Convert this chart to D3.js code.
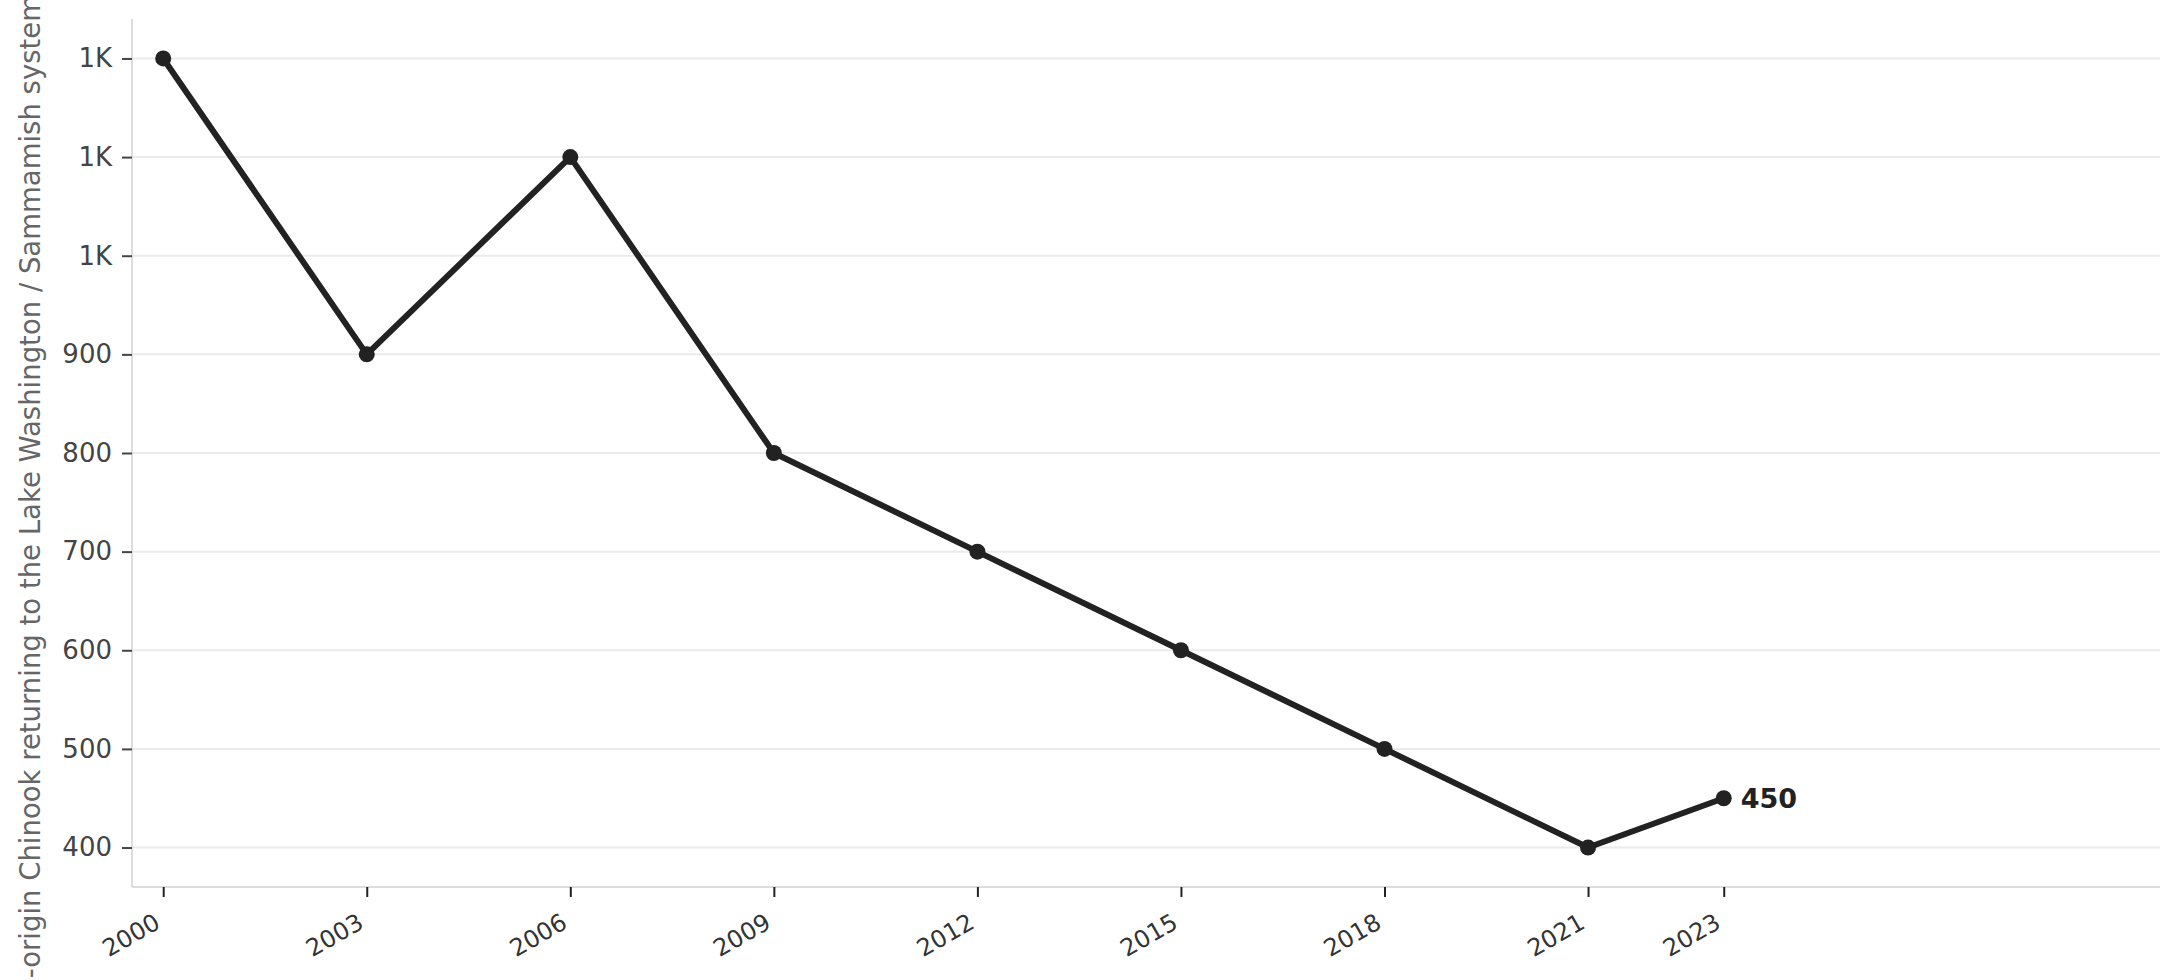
<!DOCTYPE html>
<html>
<head>
<meta charset="utf-8">
<script src="https://cdn.jsdelivr.net/npm/d3@7"></script>
<style>
  body { margin: 0; background: #fff; }
  text { font-family: "DejaVu Sans", sans-serif; }
</style>
</head>
<body>
<div id="chart"></div>
<script>
// data
var years = [2000, 2003, 2006, 2009, 2012, 2015, 2018, 2021, 2023];
var returns = [1200, 900, 1100, 800, 700, 600, 500, 400, 450];
var xTickYears = [2000, 2003, 2006, 2009, 2012, 2015, 2018, 2021, 2023];
var yTickValues = [400, 500, 600, 700, 800, 900, 1000, 1100, 1200];
var yTitle = "Number of natural-origin Chinook returning to the Lake Washington / Sammamish system";

var W = 2179, H = 980;
var plotLeft = 132, plotRight = 2160, plotTop = 19, plotBottom = 887;

var x = d3.scaleLinear()
          .domain([1999.54, 2029.43])
          .range([plotLeft, plotRight]);

var y = d3.scaleLinear()
          .domain([360, 1240])
          .range([plotBottom, plotTop]);

var svg = d3.select("#chart")
            .append("svg")
              .attr("width", W)
              .attr("height", H);

// grid
svg.append("g")
   .selectAll("line")
   .data(yTickValues)
   .join("line")
     .attr("x1", plotLeft)
     .attr("x2", plotRight)
     .attr("y1", d => y(d))
     .attr("y2", d => y(d))
     .attr("stroke", "#ebebeb")
     .attr("stroke-width", 2);

// spines
svg.append("line")
   .attr("x1", plotLeft).attr("x2", plotLeft)
   .attr("y1", plotTop).attr("y2", plotBottom)
   .attr("stroke", "#dddddd").attr("stroke-width", 2);
svg.append("line")
   .attr("x1", plotLeft).attr("x2", plotRight)
   .attr("y1", plotBottom).attr("y2", plotBottom)
   .attr("stroke", "#dddddd").attr("stroke-width", 2);

// y axis
var fmt = d3.format(".1s");
var yAxis = svg.append("g")
   .attr("transform", "translate(" + plotLeft + ",0)")
   .call(d3.axisLeft(y)
           .tickValues(yTickValues)
           .tickSize(10)
           .tickPadding(10)
           .tickFormat(d => fmt(d).replace("k", "K")));
yAxis.select(".domain").remove();
yAxis.selectAll(".tick line").attr("stroke", "#444").attr("stroke-width", 2);
yAxis.selectAll(".tick text")
     .attr("fill", "#444")
     .style("font-size", "26px")
     .style("font-family", "DejaVu Sans");

// x axis
var xAxis = svg.append("g")
   .attr("transform", "translate(0," + plotBottom + ")")
   .call(d3.axisBottom(x)
           .tickValues(xTickYears)
           .tickSize(10)
           .tickFormat(d3.format("d")));
xAxis.select(".domain").remove();
xAxis.selectAll(".tick line").attr("stroke", "#222").attr("stroke-width", 2);
xAxis.selectAll(".tick text")
     .attr("fill", "#333")
     .attr("x", 0)
     .attr("y", 0)
     .attr("dy", 0)
     .attr("text-anchor", "end")
     .attr("transform", "translate(-2,40) rotate(-30)")
     .style("font-size", "24px")
     .style("font-family", "DejaVu Sans");

// y title
svg.append("text")
   .attr("transform", "translate(40,-5) rotate(-90)")
   .attr("text-anchor", "end")
   .attr("fill", "#666")
   .style("font-size", "27.5px")
   .text(yTitle);

// line
var pts = years.map((d, i) => ({year: d, value: returns[i]}));
svg.append("path")
   .datum(pts)
   .attr("fill", "none")
   .attr("stroke", "#222")
   .attr("stroke-width", 6)
   .attr("stroke-linejoin", "round")
   .attr("d", d3.line()
      .x(d => x(d.year))
      .y(d => y(d.value)));

svg.append("g")
   .selectAll("circle")
   .data(pts)
   .join("circle")
     .attr("cx", d => x(d.year))
     .attr("cy", d => y(d.value))
     .attr("r", 8)
     .attr("fill", "#222");

// last value label
var last = pts[pts.length - 1];
svg.append("text")
   .attr("x", x(last.year) + 17)
   .attr("y", y(last.value))
   .attr("dy", "0.35em")
   .attr("fill", "#222")
   .style("font-size", "27px")
   .style("font-weight", "bold")
   .text(last.value);
</script>
</body>
</html>
